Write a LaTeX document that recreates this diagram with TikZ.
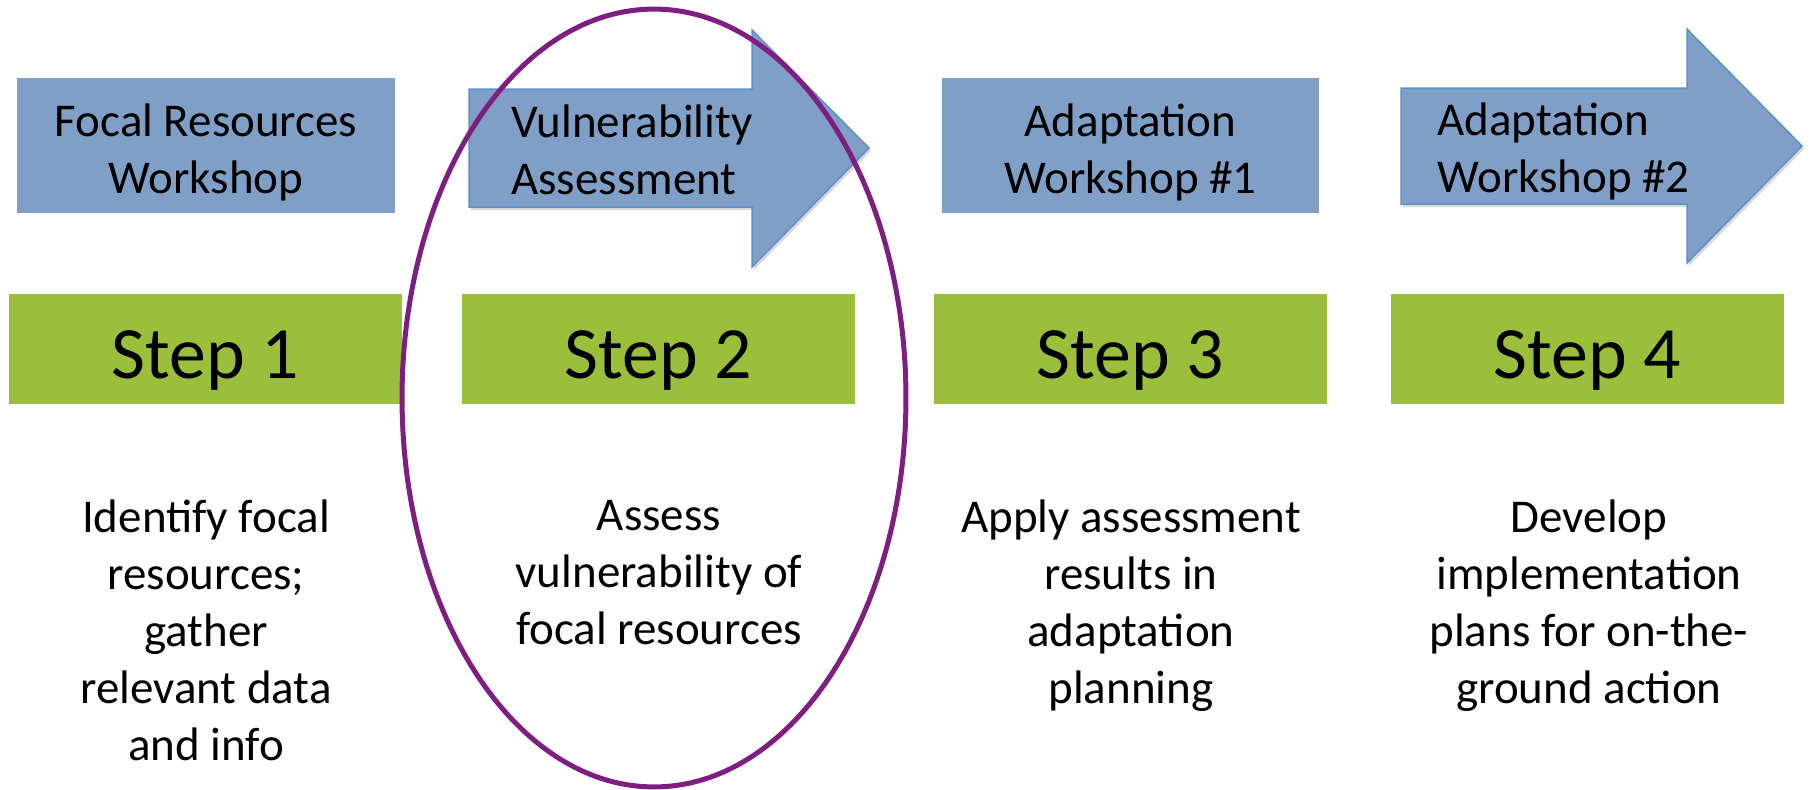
\documentclass[tikz,border=0pt]{standalone}
\usepackage{fontspec}
\setmainfont{Carlito}
\usepackage{tikz}
\usetikzlibrary{shapes,positioning,backgrounds,calc,shadows}

\definecolor{boxblue}{HTML}{7F9FC6}
\definecolor{arrowline}{HTML}{5E8FCC}
\definecolor{stepgreen}{HTML}{9BBE3B}
\definecolor{ringpurple}{HTML}{7E1E80}

\tikzset{
    workshop/.style={rectangle, fill=boxblue, minimum width=7.55cm, minimum height=2.7cm, inner sep=0pt},
    boxtext/.style={align=center, inner sep=0pt, font=\fontsize{26.75pt}{32.4pt}\selectfont},
    steparrow/.style={fill=boxblue, draw=arrowline, line width=0.03cm, line join=miter,
        drop shadow={opacity=0.3, shadow xshift=0.04cm, shadow yshift=-0.06cm}},
    stepbox/.style={rectangle, fill=stepgreen, minimum width=7.86cm, minimum height=2.2cm, inner sep=0pt,
        text height=1.16cm, text depth=0pt, font=\fontsize{42pt}{50pt}\selectfont},
    desc/.style={align=center, inner sep=0pt, anchor=north, font=\fontsize{26.75pt}{32.4pt}\selectfont},
    ring/.style={ellipse, draw=ringpurple, line width=0.1cm, minimum width=10.08cm, minimum height=15.56cm, inner sep=0pt}
}

\begin{document}
\begin{tikzpicture}[x=0.02cm, y=-0.02cm]
    \useasboundingbox (0,0) rectangle (1810,789);
    % workshops
    \node [workshop] (focal) at (206,145.5) {};
    \node [boxtext] (focaltxt) at (206,152) {Focal Resources\\Workshop};
    \draw [steparrow] (469,89) -- (752,89) -- (752,30) -- (869,148) -- (752,267) -- (752,207) -- (469,207) -- cycle;
    \node [boxtext, align=left, anchor=west] (vulntxt) at (511,150) {Vulnerability\\Assessment};
    \node [workshop] (adaptone) at (1130.5,145.5) {};
    \node [boxtext] (adaptonetxt) at (1130.5,152) {Adaptation\\Workshop \#1};
    \draw [steparrow] (1401,88) -- (1687,88) -- (1687,29) -- (1802,146) -- (1687,263) -- (1687,204) -- (1401,204) -- cycle;
    \node [boxtext, align=left, anchor=west] (adapttwotxt) at (1437,151.5) {Adaptation\\Workshop \#2};

    % steps
    \node [stepbox] (stepone) at (205.5,349) {Step 1};
    \node [stepbox] (steptwo) at (658.5,349) {Step 2};
    \node [stepbox] (stepthree) at (1130.5,349) {Step 3};
    \node [stepbox] (stepfour) at (1587.5,349) {Step 4};

    % descriptions
    \node [desc] (onedesc) at (206,500) {Identify focal\\resources;\\gather\\relevant data\\and info};
    \node [desc] (twodesc) at (659,500) {Assess\\vulnerability of\\focal resources};
    \node [desc] (threedesc) at (1131,500) {Apply assessment\\results in\\adaptation\\planning};
    \node [desc] (fourdesc) at (1589,500) {Develop\\implementation\\plans for on-the-\\ground action};

    \node [ring] (focus) at (654,398) {};
\end{tikzpicture}
\end{document}
